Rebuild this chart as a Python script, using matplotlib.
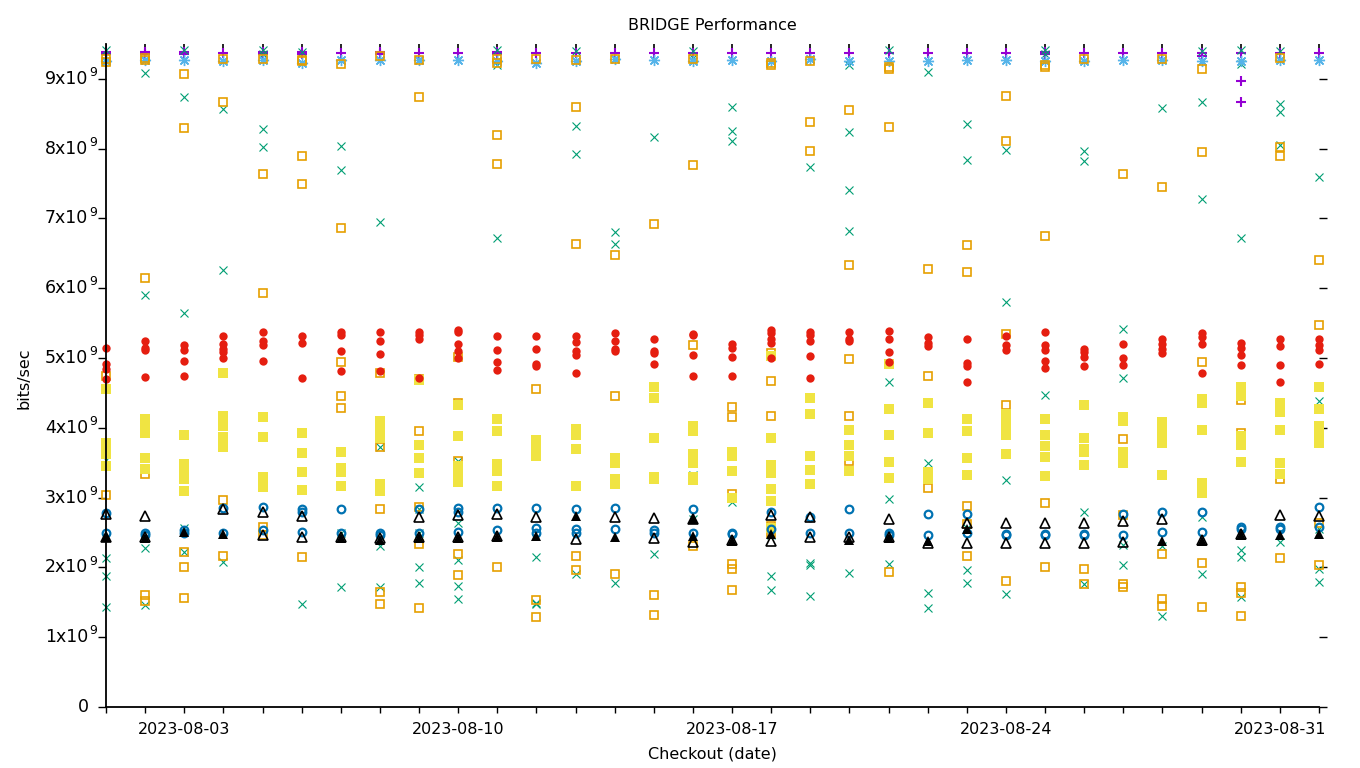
import matplotlib
matplotlib.use('Agg')
import matplotlib.pyplot as plt
import matplotlib.dates as mdates
import matplotlib.transforms as mtransforms
import pandas as pd

# checkout dates, one column of points per day (values in units of 1e9 bits/sec)
days = pd.date_range('2023-08-01', '2023-09-01', freq='D')

black_top = [[9.41], [9.41], [9.44], [9.41], [9.41], [9.41], [9.41], [9.41],
             [9.41], [9.44], [9.41], [9.41], [9.41], [9.41], [9.41], [9.41],
             [9.41], [9.41], [9.41], [9.41], [9.41], [9.41], [9.41], [9.44],
             [9.41], [9.41], [9.41], [9.41], [9.41], [9.41], [9.44], [9.41]]

purple_plus = [[9.36, 9.38], [9.36, 9.38], [9.36, 9.38], [9.37], [9.36, 9.38], [9.36, 9.38],
               [9.37], [9.36, 9.38], [9.37], [9.37], [9.36, 9.38], [9.37], [9.37], [9.37],
               [9.37], [9.37], [9.37], [9.37], [9.37], [9.37], [9.37], [9.37], [9.37],
               [9.37], [9.36, 9.38], [9.37], [9.37], [9.37], [9.37, 9.33], [9.37, 8.97, 8.67],
               [9.37], [9.37]]

teal_x = [[9.42, 3.54, 2.14, 1.87, 1.43], [9.08, 5.9, 2.28, 1.46], [9.42, 8.74, 5.65, 2.56, 2.22],
          [8.57, 6.26, 2.08], [9.42, 9.36, 8.28, 8.02], [9.38, 1.48], [8.04, 7.69, 2.5, 1.72],
          [6.95, 3.73, 2.3, 1.72], [3.15, 2.83, 2.5, 2.0, 1.77], [3.53, 2.64, 2.1, 1.73, 1.55],
          [9.42, 9.2, 6.72], [2.15, 1.49, 1.47], [9.4, 8.32, 7.92, 1.91], [6.8, 6.63, 1.78],
          [8.17, 3.87, 2.19], [9.4, 9.3, 3.33, 2.7], [8.6, 8.26, 8.11, 2.94], [2.47, 1.88, 1.68],
          [7.74, 2.07, 2.03, 1.59], [9.2, 8.24, 7.41, 6.82, 1.92], [9.42, 4.66, 2.98, 2.05],
          [9.1, 3.5, 1.63, 1.42], [8.35, 7.84, 2.57, 1.97, 1.78], [7.98, 5.8, 3.25, 1.62],
          [9.42, 9.35, 4.47], [7.97, 7.82, 2.8, 1.76], [5.41, 4.72, 2.32, 2.03],
          [8.58, 2.3, 1.31], [9.4, 8.67, 7.28, 2.72, 1.91], [9.42, 9.22, 6.72, 2.25, 2.15, 1.58],
          [9.4, 8.64, 8.52, 8.05, 2.37], [7.6, 4.39, 2.55, 1.98, 1.79]]

sky_star = [[9.26], [9.27], [9.27], [9.25], [9.27], [9.23], [9.27], [9.27],
            [9.27], [9.27], [9.26], [9.23], [9.26], [9.28], [9.27], [9.26],
            [9.27], [9.25], [9.28], [9.25], [9.26], [9.26], [9.27], [9.27],
            [9.26], [9.26], [9.27], [9.27], [9.26], [9.25], [9.27], [9.27]]

orange_sq = [[9.24, 9.28, 4.75, 3.04], [9.27, 9.3, 6.14, 3.34, 1.61, 1.52], [9.07, 8.29, 2.22, 2.01, 1.56],
             [9.28, 8.67, 2.97, 2.17], [9.28, 7.64, 5.93, 2.58, 2.47], [9.27, 9.25, 7.89, 7.5, 2.15],
             [9.22, 6.87, 4.95, 4.45, 4.28], [9.33, 4.78, 3.73, 2.83, 1.65, 1.48],
             [9.27, 8.74, 4.7, 3.95, 2.87, 2.33, 1.42], [5.02, 4.35, 3.53, 2.19, 1.89],
             [9.28, 9.23, 8.2, 7.78, 2.0], [9.28, 4.55, 1.53, 1.29], [9.27, 8.6, 6.63, 2.17, 1.96],
             [9.28, 6.47, 4.45, 1.91], [6.92, 1.61, 1.32], [9.28, 7.77, 5.18, 3.95, 2.3],
             [4.3, 4.15, 3.05, 2.05, 1.98, 1.68], [9.23, 9.2, 5.07, 4.67, 4.17, 2.6, 2.5],
             [9.25, 8.38, 7.97], [8.55, 6.33, 4.98, 4.17, 3.52], [9.17, 9.14, 8.31, 1.93],
             [6.28, 4.75, 3.14], [6.62, 6.23, 2.88, 2.62, 2.16], [8.76, 8.11, 5.35, 4.33, 1.8],
             [9.2, 9.17, 6.75, 2.92, 2.0], [9.28, 1.98, 1.76], [7.64, 3.84, 2.75, 1.76, 1.72],
             [9.28, 7.45, 2.19, 1.55, 1.45], [9.14, 7.95, 4.95, 2.07, 1.43],
             [4.4, 3.93, 1.72, 1.63, 1.31], [9.3, 8.02, 7.89, 3.27, 2.14], [6.4, 5.47, 2.64, 2.04]]

yellow_sq = [[4.56, 3.78, 3.7, 3.62, 3.46], [4.12, 4.0, 3.93, 3.57, 3.41], [3.9, 3.48, 3.38, 3.27, 3.1],
             [4.79, 4.17, 4.03, 3.87, 3.8, 3.73], [4.15, 3.87, 3.3, 3.22, 3.15], [3.93, 3.64, 3.37, 3.11],
             [3.65, 3.43, 3.37, 3.16], [4.1, 4.0, 3.85, 3.2, 3.1], [4.69, 3.75, 3.57, 3.35],
             [4.33, 3.89, 3.45, 3.35, 3.22], [4.13, 3.95, 3.48, 3.38, 3.17], [3.83, 3.75, 3.65, 3.6],
             [3.99, 3.9, 3.7, 3.17], [3.57, 3.5, 3.27, 3.2], [4.58, 4.43, 3.85, 3.3, 3.27],
             [4.03, 3.95, 3.63, 3.5, 3.3, 3.25], [3.66, 3.6, 3.38, 3.0],
             [5.03, 3.85, 3.47, 3.35, 3.12, 2.95, 2.57], [4.43, 4.2, 3.6, 3.4, 3.2],
             [3.97, 3.75, 3.6, 3.38], [4.91, 4.27, 3.9, 3.51, 3.28], [4.36, 3.93, 3.37, 3.26],
             [4.12, 3.95, 3.57, 3.33], [4.2, 4.1, 3.98, 3.9, 3.63], [4.13, 3.9, 3.74, 3.58, 3.31],
             [4.33, 3.85, 3.7, 3.65, 3.47], [4.16, 4.1, 3.65, 3.58, 3.5], [4.08, 4.0, 3.9, 3.78, 3.33],
             [4.42, 4.35, 3.97, 3.21, 3.06], [4.59, 4.45, 3.88, 3.76, 3.51],
             [4.35, 4.23, 3.97, 3.49, 3.34], [4.59, 4.27, 4.03, 3.92, 3.85, 3.78]]

blue_circ = [[2.78, 2.5], [2.5, 2.47], [2.54, 2.5], [2.85, 2.5], [2.87, 2.54], [2.84, 2.8, 2.51],
             [2.83, 2.5], [2.5, 2.47], [2.83, 2.5], [2.85, 2.8, 2.51], [2.85, 2.54],
             [2.85, 2.56, 2.5], [2.84, 2.55, 2.5], [2.85, 2.55], [2.54, 2.5], [2.83, 2.5],
             [2.5, 2.48], [2.8, 2.55], [2.72, 2.5], [2.83, 2.5], [2.5, 2.47], [2.77, 2.47],
             [2.77, 2.5], [2.48, 2.46], [2.48, 2.46], [2.48, 2.46], [2.77, 2.47], [2.8, 2.51],
             [2.8, 2.51], [2.58, 2.55], [2.58, 2.55], [2.87, 2.58]]

red_circ = [[5.15, 4.92, 4.85, 4.7], [5.25, 5.15, 5.12, 4.73], [5.19, 5.12, 4.96, 4.75],
            [5.32, 5.2, 5.13, 5.08, 5.0], [5.38, 5.24, 5.18, 4.96], [5.31, 5.21, 4.72],
            [5.37, 5.33, 5.1, 4.82], [5.38, 5.24, 5.06, 4.82], [5.38, 5.33, 5.27, 4.72],
            [5.4, 5.37, 5.2, 5.1, 5.0], [5.32, 5.11, 4.94, 4.83], [5.32, 5.13, 4.91, 4.89],
            [5.32, 5.23, 5.1, 5.05, 4.78], [5.36, 5.24, 5.13, 5.1], [5.27, 5.1, 5.07, 4.91],
            [5.35, 5.33, 5.05, 4.74], [5.2, 5.15, 5.02, 4.75], [5.4, 5.36, 5.28, 5.22, 5.0],
            [5.37, 5.33, 5.24, 5.03, 4.72], [5.37, 5.27, 5.24], [5.39, 5.28, 5.09, 4.95],
            [5.3, 5.22, 5.17], [5.27, 4.93, 4.88, 4.66], [5.31, 5.19, 5.12],
            [5.37, 5.19, 5.12, 4.96, 4.86], [5.13, 5.08, 5.02, 4.88], [5.2, 5.0, 4.9],
            [5.27, 5.2, 5.13, 5.07], [5.36, 5.3, 5.2, 4.78], [5.22, 5.15, 5.05, 4.9],
            [5.27, 5.17, 4.9, 4.66], [5.27, 5.19, 5.12, 4.92]]

black_tri_open = [[2.77, 2.44], [2.73, 2.44], [], [2.83], [2.8, 2.47], [2.73, 2.44], [2.43], [2.42],
                  [2.72, 2.43], [2.75, 2.44], [2.77, 2.45], [2.72], [2.41], [2.72], [2.71, 2.42],
                  [2.7, 2.37], [2.4], [2.75, 2.38], [2.72, 2.43], [2.43], [2.7, 2.43], [2.35],
                  [2.63, 2.35], [2.64, 2.35], [2.64, 2.35], [2.64, 2.35], [2.66, 2.37], [2.7],
                  [2.4], [2.48], [2.75], [2.73]]

black_tri_fill = [[2.43], [2.42], [2.51], [2.48], [], [], [2.42], [2.4], [2.42], [2.42], [2.43],
                  [2.45], [2.74], [2.44], [], [2.7, 2.45], [2.38], [2.48], [], [2.4], [2.42],
                  [2.38], [2.55], [], [], [], [], [2.38], [2.38], [2.47], [2.47], [2.48]]

ytick_vals = [0, 1, 2, 3, 4, 5, 6, 7, 8, 9]


def flat(series):
    xs, ys = [], []
    for d, vals in zip(days, series):
        for v in vals:
            xs.append(d)
            ys.append(v * 1e9)
    return xs, ys


plt.rcParams['font.family'] = ['DejaVu Sans']
fig = plt.figure(figsize=(13.6, 7.68), dpi=100)
ax = fig.add_axes([106 / 1360, 1 - 707 / 768, (1319 - 106) / 1360, (707 - 44) / 768])

ax.plot(*flat(black_top), ls='none', marker='|', color='black', ms=11, mew=1.2)
pts = dict(ls='none', clip_on=False)
ax.plot(*flat(purple_plus), marker='+', color='#9400d3', ms=7, mew=1.5, **pts)
ax.plot(*flat(teal_x), marker='x', color='#009e73', ms=6, mew=0.8, **pts)
ax.plot(*flat(sky_star), marker=(8, 2, 0), color='#56b4e9', ms=8, mew=1.0, **pts)
ax.plot(*flat(orange_sq), marker='s', mfc='none', mec='#e69f00', ms=6, mew=1.2, **pts)
ax.plot(*flat(yellow_sq), marker='s', color='#f0e442', ms=6.5, mew=0, **pts)
ax.plot(*flat(blue_circ), marker='o', mfc='none', mec='#0072b2', ms=5.5, mew=1.6, **pts)
ax.plot(*flat(red_circ), marker='o', color='#e51e10', ms=6, mew=0, **pts)
ax.plot(*flat(black_tri_open), marker='^', mfc='none', mec='black', ms=6.5, mew=1.2, **pts)
ax.plot(*flat(black_tri_fill), marker='^', color='black', ms=6.5, mew=0, **pts)

ax.set_xlim(days[0], days[-1])
ax.set_ylim(0, 9.5e9)

# y labels drawn gnuplot-style: base text plus a raised exponent
ax.set_yticks([v * 1e9 for v in ytick_vals])
ax.set_yticklabels([])
ax.tick_params(axis='y', direction='out', length=6, width=1, right=True)
tr = mtransforms.blended_transform_factory(fig.transFigure, ax.transData)
for v in ytick_vals:
    if v == 0:
        ax.text(89 / 1360, 0, '0', transform=tr, ha='right', va='center', fontsize=12.5)
    else:
        ax.text(88 / 1360, v * 1e9, f'{v}x10', transform=tr, ha='right', va='center', fontsize=12.5)
        ax.text(89 / 1360, v * 1e9 + 0.09e9, '9', transform=tr, ha='left', va='center', fontsize=9)

ax.xaxis.set_major_locator(mdates.DayLocator(bymonthday=[3, 10, 17, 24, 31]))
ax.xaxis.set_minor_locator(mdates.DayLocator())
ax.xaxis.set_major_formatter(mdates.DateFormatter('%Y-%m-%d'))
ax.tick_params(axis='x', which='both', direction='out', length=4, width=1, pad=7, labelsize=11.5)

for s in ['top', 'right']:
    ax.spines[s].set_visible(False)
for s in ['left', 'bottom']:
    ax.spines[s].set_linewidth(1.3)

fig.text(712 / 1360, 1 - 25 / 768, 'BRIDGE Performance', ha='center', va='center', fontsize=11.5)
fig.text(712 / 1360, 1 - 754 / 768, 'Checkout (date)', ha='center', va='center', fontsize=11.5)
fig.text(24 / 1360, 1 - 378 / 768, 'bits/sec', ha='center', va='center', rotation=90, fontsize=11.5)

fig.savefig('out.png', dpi=100)
